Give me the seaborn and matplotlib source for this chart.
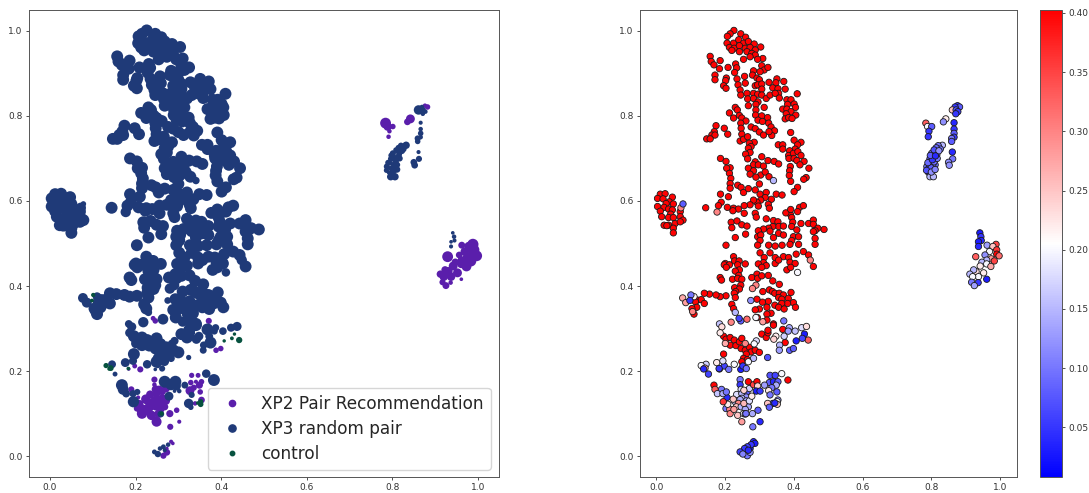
import matplotlib
matplotlib.use('Agg')
import matplotlib.pyplot as plt
from matplotlib.lines import Line2D
import pandas as pd
import seaborn as sns

# XP3 points that sit at the top of the colour scale
xp3_red = [
    (.226,1.001),(.215,.993),(.207,.987),(.246,.993),(.260,.985),(.206,.971),(.225,.971),(.240,.979),(.254,.971),
    (.268,.975),(.285,.969),(.304,.962),(.213,.961),(.227,.959),(.242,.965),(.259,.959),(.273,.961),(.288,.955),
    (.220,.954),(.242,.951),(.264,.951),(.278,.947),(.288,.943),(.310,.935),(.254,.933),(.295,.933),(.273,.939),
    (.157,.940),(.160,.928),(.168,.920),(.186,.930),(.184,.911),(.209,.914),(.231,.922),(.234,.913),(.228,.902),
    (.171,.896),(.171,.885),(.204,.889),(.202,.883),(.235,.887),(.196,.871),(.203,.865),(.257,.893),(.259,.877),
    (.238,.873),(.244,.861),(.246,.849),(.264,.853),(.266,.840),(.283,.906),(.280,.896),(.307,.918),(.314,.908),
    (.325,.914),(.302,.904),(.293,.889),(.300,.885),(.288,.871),(.295,.873),(.307,.875),(.307,.863),(.283,.853),
    (.295,.851),(.307,.849),(.283,.841),(.296,.833),(.320,.841),(.331,.849),(.328,.879),(.351,.887),(.348,.878),
    (.371,.881),(.339,.866),(.354,.864),(.375,.863),(.356,.853),(.346,.853),(.358,.842),(.410,.852),(.268,.824),
    (.290,.827),(.314,.820),(.290,.814),(.289,.802),(.380,.838),(.392,.838),(.382,.827),(.401,.828),(.368,.816),
    (.380,.816),(.405,.820),(.392,.810),(.378,.805),(.406,.802),(.375,.793),(.385,.796),(.395,.794),
    (.230,.820),(.236,.814),(.213,.807),(.225,.795),(.242,.801),(.249,.795),(.261,.788),(.246,.783),(.247,.771),
    (.249,.757),(.174,.777),(.169,.763),(.198,.771),(.208,.757),(.162,.755),(.171,.755),(.147,.746),(.157,.746),
    (.244,.741),(.254,.745),(.266,.751),(.276,.774),(.288,.770),(.300,.762),(.312,.755),(.307,.800),(.324,.796),
    (.296,.790),(.309,.787),(.327,.783),(.334,.774),(.344,.765),(.336,.754),(.328,.763),(.391,.761),
    (.355,.732),(.368,.732),(.368,.722),(.401,.743),(.421,.738),(.411,.732),(.404,.722),(.388,.718),(.385,.707),
    (.399,.712),(.412,.716),(.421,.707),(.386,.700),(.401,.700),(.409,.695),(.430,.693),(.418,.685),(.390,.681),
    (.388,.671),(.387,.660),(.391,.646),(.444,.677),(.436,.655),(.429,.651),(.411,.632),(.401,.622),
    (.285,.738),(.271,.736),(.276,.728),(.268,.724),(.273,.714),(.260,.710),(.266,.699),(.307,.704),(.288,.692),
    (.283,.685),(.297,.685),(.325,.695),(.343,.693),(.356,.687),(.312,.682),(.268,.677),(.283,.671),(.273,.663),
    (.304,.661),(.317,.668),(.290,.656),(.328,.657),
    (.187,.700),(.203,.693),(.215,.678),(.205,.677),(.213,.665),(.217,.653),(.215,.641),(.215,.630),(.237,.637),
    (.247,.632),(.254,.620),(.268,.629),(.288,.626),(.300,.640),(.302,.616),(.320,.620),(.317,.608),(.349,.616),
    (.366,.614),(.335,.604),(.304,.602),(.293,.597),(.283,.602),(.273,.591),(.256,.589),(.297,.588),(.326,.592),
    (.329,.583),(.187,.616),(.210,.610),(.189,.597),(.181,.589),(.144,.584),(.207,.585),(.225,.583),(.239,.581),
    (.223,.577),(.256,.571),(.288,.571),(.291,.562),(.218,.550),(.235,.553),(.220,.537),(.249,.544),(.264,.541),
    (.230,.514),(.260,.522),(.203,.496),
    (.012,.616),(.026,.617),(.047,.609),(.004,.606),(.020,.605),(.038,.598),(.029,.594),(.050,.593),(.004,.587),
    (.023,.585),(.012,.576),(.036,.581),(.047,.579),(.042,.569),(.070,.575),(.016,.563),(.036,.561),(.050,.561),
    (.070,.563),(.078,.555),(.023,.543),(.036,.543),(.055,.547),(.070,.551),(.050,.536),(.050,.525),(.031,.542),
    (.320,.558),(.341,.554),(.354,.551),(.390,.569),(.377,.572),(.391,.580),(.417,.585),(.428,.589),(.411,.575),
    (.394,.561),(.397,.550),(.421,.547),(.443,.547),(.457,.555),(.457,.545),(.488,.533),(.470,.536),(.462,.530),
    (.356,.540),(.370,.541),(.394,.540),(.409,.532),(.339,.540),(.327,.536),(.312,.534),(.297,.530),(.295,.516),
    (.304,.520),(.331,.529),(.356,.524),(.370,.520),(.341,.514),(.302,.507),(.295,.496),(.327,.496),(.346,.494),
    (.366,.496),(.399,.516),(.414,.516),(.394,.507),(.389,.498),(.414,.498),(.457,.528),(.462,.512),(.462,.498),
    (.302,.478),(.314,.467),(.331,.478),(.346,.467),(.370,.469),(.346,.453),(.356,.461),(.385,.467),(.407,.475),
    (.428,.481),(.443,.473),(.457,.446),(.389,.456),(.404,.453),(.380,.438),(.391,.444),(.312,.455),(.297,.452),
    (.320,.448),(.307,.444),
    (.225,.469),(.228,.459),(.201,.453),(.241,.459),(.259,.452),(.198,.450),(.213,.450),(.237,.450),(.204,.444),
    (.242,.438),(.230,.435),(.240,.425),(.186,.420),(.190,.414),(.222,.416),(.237,.418),(.249,.416),
    (.293,.428),(.278,.420),(.295,.418),(.307,.424),(.326,.425),(.339,.412),(.358,.404),(.246,.402),(.228,.396),
    (.242,.393),(.231,.387),(.227,.383),(.310,.387),(.329,.391),(.338,.387),(.345,.383),(.358,.383),(.370,.379),
    (.392,.385),(.356,.373),(.384,.371),(.365,.369),(.399,.361),(.405,.350),(.382,.359),(.365,.359),(.345,.355),
    (.326,.364),(.309,.362),(.356,.350),(.372,.346),(.322,.350),(.300,.346),(.288,.344),(.334,.336),(.322,.334),
    (.294,.326),(.322,.320),(.341,.311),(.293,.369),(.230,.373),(.220,.357),(.225,.347),
    (.203,.377),(.186,.375),(.174,.379),(.155,.381),(.140,.383),(.120,.367),(.131,.368),(.140,.359),(.114,.363),
    (.118,.350),(.104,.347),(.110,.334),
    (.196,.282),(.203,.275),(.215,.279),(.227,.273),(.215,.261),(.232,.260),(.242,.269),(.249,.277),(.247,.253),
    (.259,.249),(.271,.256),(.276,.245),(.288,.249),(.300,.244),(.262,.240),(.254,.230),(.265,.227),(.196,.240),
    (.249,.222),(.368,.298),(.375,.267),(.307,.287),(.320,.279),(.325,.290),(.325,.296),(.341,.308),
]
red_value = 0.40

# XP3 points with their own colour value
xp3_other = [
    (.341,.648,.15),(.177,.574,.30),(.072,.584,.30),(.078,.593,.08),(.411,.432,.20),(.448,.461,.30),(.290,.402,.30),
    (.280,.394,.30),(.310,.316,.28),(.290,.326,.20),(.230,.338,.15),(.275,.366,.12),(.264,.322,.32),(.218,.315,.30),
    (.184,.311,.16),(.191,.304,.23),(.186,.290,.22),(.106,.340,.30),(.077,.372,.27),(.086,.361,.28),(.110,.375,.21),
    (.201,.265,.27),(.259,.265,.30),(.291,.271,.18),(.285,.264,.20),(.283,.230,.15),(.268,.222,.20),(.227,.216,.20),
    (.176,.220,.22),(.194,.224,.18),(.324,.232,.07),(.387,.302,.14),(.404,.294,.16),(.423,.302,.18),(.437,.305,.23),
    (.384,.294,.13),(.372,.282,.17),(.348,.282,.22),(.342,.275,.24),(.359,.261,.15),(.358,.249,.13),(.145,.216,.17),
    (.152,.193,.06),(.246,.204,.03),(.252,.212,.05),(.262,.206,.10),(.168,.167,.40),(.171,.157,.33),(.178,.147,.16),
    (.194,.147,.14),(.204,.151,.10),(.195,.128,.36),(.268,.175,.40),(.283,.168,.35),(.293,.175,.40),(.295,.165,.24),
    (.291,.153,.03),(.302,.153,.05),(.278,.141,.22),(.383,.179,.40),(.365,.194,.20),(.315,.167,.13),(.331,.144,.10),
    (.324,.124,.25),(.329,.115,.08),(.259,.099,.12),(.276,.027,.05),(.265,.022,.06),(.257,.018,.05),(.244,.010,.06),
    (.252,.005,.11),(.268,.014,.04),
    (.866,.784,.04),(.866,.769,.05),(.866,.759,.08),(.866,.750,.05),(.859,.747,.10),(.859,.740,.08),(.861,.715,.04),
    (.862,.699,.10),(.850,.691,.12),(.852,.684,.12),(.832,.731,.15),(.820,.730,.10),(.811,.716,.05),(.826,.722,.10),
    (.801,.712,.10),(.816,.709,.08),(.811,.699,.10),(.796,.699,.08),(.796,.689,.05),(.811,.685,.10),(.787,.681,.10),
    (.804,.685,.10),(.793,.677,.03),(.806,.673,.10),(.792,.667,.05),(.796,.657,.15),(.806,.657,.15),(.869,.821,.05),
    (.861,.814,.25),(.872,.814,.07),(.877,.810,.05),(.871,.805,.05),
    (.941,.525,.03),(.944,.516,.05),(.945,.507,.04),(.937,.504,.03),(.937,.493,.04),
    (.814,.725,.09),(.808,.720,.07),(.822,.718,.12),(.803,.705,.06),(.808,.692,.09),(.799,.678,.08),(.790,.690,.09),
    (.786,.672,.07),(.800,.668,.12),(.811,.674,.11),(.817,.700,.10),(.803,.697,.05),(.797,.707,.08),(.812,.706,.04),
]

# XP2 Pair Recommendation points
xp2_points = [
    (.246,.318,.08),(.241,.324,.06),(.371,.318,.10),(.388,.249,.08),(.399,.253,.08),(.184,.205,.03),(.198,.212,.06),
    (.211,.204,.10),(.190,.157,.10),(.206,.138,.04),(.203,.112,.10),(.214,.110,.30),(.215,.100,.30),(.234,.145,.18),
    (.244,.180,.10),(.244,.168,.05),(.247,.157,.18),(.249,.147,.15),(.264,.151,.08),(.271,.159,.17),(.262,.139,.12),
    (.249,.136,.15),(.228,.129,.16),(.244,.133,.14),(.239,.124,.30),(.233,.116,.25),(.247,.116,.15),(.262,.130,.14),
    (.268,.116,.14),(.259,.110,.14),(.280,.100,.14),(.237,.096,.25),(.249,.081,.28),(.281,.069,.10),(.296,.108,.08),
    (.302,.081,.04),(.331,.190,.07),(.346,.190,.06),(.329,.173,.08),(.341,.175,.04),(.354,.175,.08),(.349,.167,.14),
    (.336,.161,.10),(.327,.154,.22),(.351,.151,.08),(.354,.132,.12),(.339,.124,.05),(.283,.034,.04),(.287,.030,.03),
    (.273,.018,.03),(.265,.001,.10),(.273,.009,.12),(.784,.783,.33),(.789,.775,.20),(.801,.775,.08),(.793,.764,.05),
    (.791,.751,.05),(.842,.793,.22),(.835,.786,.12),(.876,.824,.05),(.882,.821,.08),
    (.962,.496,.13),(.988,.498,.35),(.979,.493,.25),(.990,.485,.36),(.969,.481,.20),(.956,.473,.12),(.990,.475,.40),
    (.997,.471,.32),(.929,.469,.33),(.974,.464,.28),(.983,.459,.35),(.961,.461,.15),(.947,.456,.15),(.961,.452,.20),
    (.973,.446,.27),(.942,.447,.22),(.952,.431,.22),(.930,.434,.23),(.923,.438,.15),(.912,.428,.15),(.937,.422,.20),
    (.920,.422,.20),(.961,.416,.03),(.917,.409,.10),(.936,.408,.05),(.925,.401,.13),
    (.224,.134,.25),(.255,.124,.26),(.226,.110,.28),(.208,.122,.22),(.254,.100,.20),(.255,.155,.24),(.271,.130,.18),
]

# control points
control_points = [
    (.101,.379,.10),(.098,.366,.05),(.131,.213,.20),(.142,.207,.27),(.138,.205,.04),(.183,.206,.05),(.431,.287,.03),
    (.442,.273,.33),(.425,.277,.06),(.407,.271,.03),(.352,.128,.20),(.352,.122,.25),(.345,.125,.04),(.261,.100,.10),
]

group_names = ['XP2 Pair Recommendation', 'XP3 random pair', 'control']
group_colors = ['#5a1eab', '#1f3a78', '#07523f']
value_min = 0.008
value_max = 0.4025

rows = [(x, y, v, group_names[0]) for x, y, v in xp2_points]
rows += [(x, y, red_value, group_names[1]) for x, y in xp3_red]
rows += [(x, y, v, group_names[1]) for x, y, v in xp3_other]
rows += [(x, y, v, group_names[2]) for x, y, v in control_points]
df = pd.DataFrame(rows, columns=['x', 'y', 'value', 'group'])
treated = df[df['group'] != 'control']
control = df[df['group'] == 'control']

sns.set_style('white')
W, H = 1089, 493
fig = plt.figure(figsize=(W / 100, H / 100), dpi=100)
ax1 = fig.add_axes([29 / W, 16 / H, 470 / W, 467 / H])
ax2 = fig.add_axes([640 / W, 16 / H, 377 / W, 467 / H])
cax = fig.add_axes([1040 / W, 16 / H, 22 / W, 467 / H])

# left panel, marker size follows the value
sns.scatterplot(data=treated, x='x', y='y', hue='group', hue_order=group_names[:2], palette=group_colors[:2],
                size='value', sizes=(3, 74), size_norm=(value_min, value_max),
                linewidth=0, legend=False, ax=ax1)
# control dots stay smaller
sns.scatterplot(data=control, x='x', y='y', color=group_colors[2],
                size='value', sizes=(5, 24), size_norm=(value_min, value_max),
                linewidth=0, legend=False, ax=ax1)
ax1.set_xlim(-.049, 1.049)
handles = [Line2D([], [], linestyle='', marker='o', color=c, markersize=m)
           for c, m in zip(group_colors, [4.5, 5.2, 3.2])]
ax1.legend(handles, group_names, loc='lower right', fontsize=12.2, bbox_to_anchor=(0.982, 0.016),
           borderaxespad=0, labelspacing=0.42, handletextpad=0.75)

# right panel, same points coloured by value
sns.scatterplot(data=df, x='x', y='y', hue='value', palette='bwr', hue_norm=(value_min, value_max),
                s=21, edgecolor='#1a1a1a', linewidth=0.6, legend=False, ax=ax2)
ax2.set_xlim(-.047, 1.049)

sm = plt.cm.ScalarMappable(cmap='bwr', norm=plt.Normalize(value_min, value_max))
cbar = fig.colorbar(sm, cax=cax)
cbar.set_ticks([.05, .10, .15, .20, .25, .30, .35, .40])
cbar.ax.tick_params(labelsize=6.5, length=2.5, width=0.6, pad=2, colors='#333333')
cbar.ax.yaxis.set_major_formatter(matplotlib.ticker.FormatStrFormatter('%.2f'))
cbar.outline.set_edgecolor('#555555')
cbar.outline.set_linewidth(0.7)

for ax in (ax1, ax2):
    ax.set_ylim(-.049, 1.049)
    ax.set_xticks([0, .2, .4, .6, .8, 1.0])
    ax.set_yticks([0, .2, .4, .6, .8, 1.0])
    ax.set_xlabel('')
    ax.set_ylabel('')
    ax.tick_params(left=True, bottom=True, labelsize=6.5, length=2.5, width=0.6, pad=2, colors='#333333')
    for s in ax.spines.values():
        s.set_edgecolor('#555555')
        s.set_linewidth(0.7)

fig.savefig('out.png', dpi=100)
